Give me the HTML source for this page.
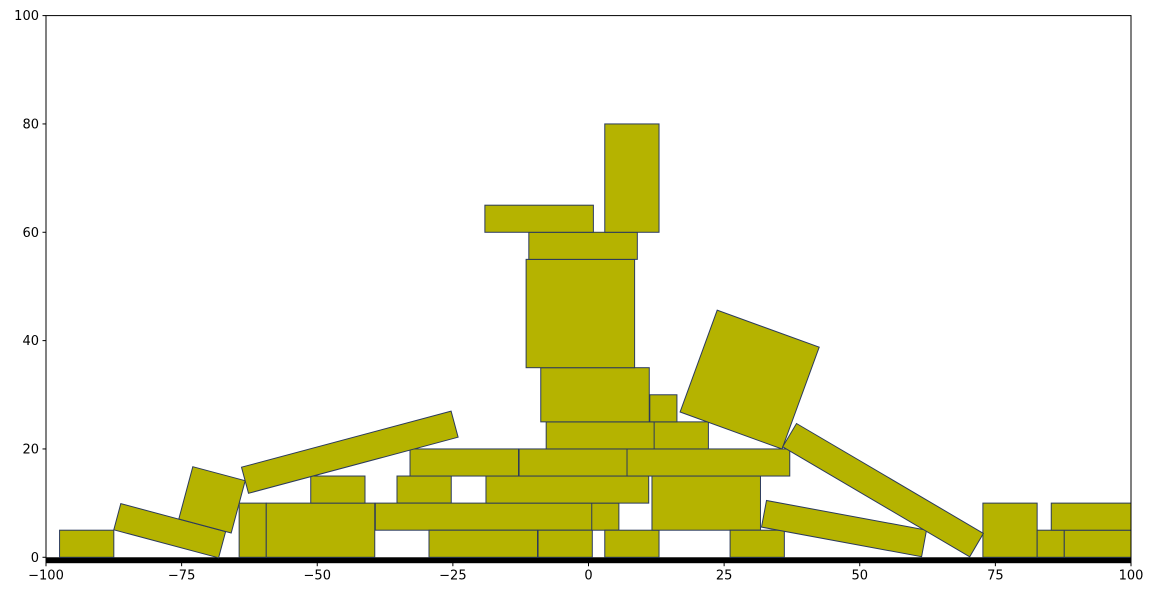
<!DOCTYPE html>
<html><head><meta charset="utf-8"><style>
body{margin:0;background:#fff;}
svg{display:block;font-family:"DejaVu Sans","Liberation Sans",sans-serif;}
</style></head><body>
<svg id="chart" width="1154" height="597"></svg>
<script>
// axis-aligned boxes: x0, y0, width, height
const boxX = [-97.5,-64.4,-59.4,-51.2,-35.3,-39.3,-29.4,-9.3,0.6,3.0,-18.9,11.7,26.1,-32.9,-12.8,7.1,-7.8,12.1,-8.8,11.3,-11.5,-11.0,-19.1,3.0,72.7,82.7,87.7,85.3];
const boxY = [0,0,0,10,10,5,0,0,5,0,10,5,0,15,15,15,20,20,25,25,35,55,60,60,0,0,0,5];
const boxW = [10,5,20,10,10,40,20,10,5,10,30,20,10,20,20,30,20,10,20,5,20,20,20,10,10,5,20,20];
const boxH = [5,10,10,5,5,5,5,5,5,5,5,10,5,5,5,5,5,5,10,5,20,5,5,20,10,5,5,5];
// rotated boxes: center x, center y, width, height, angle (deg)
const rotCX = [-77.2,-69.4,-44.0,29.7,47.1,54.3];
const rotCY = [4.9,10.6,19.4,32.8,5.3,12.4];
const rotW = [20,10,40,20,30,40];
const rotH = [5,10,5,20,5,5];
const rotA = [-15,-15,15,-20,-10.5,-30.5];
const xTicks = [-100,-75,-50,-25,0,25,50,75,100];
const yTicks = [0,20,40,60,80,100];

const L=46,R=1131,T=15.6,B=562.7;
const xMin=-100,xMax=100,yMin=-1,yMax=100;
const sx=v=>L+(v-xMin)/(xMax-xMin)*(R-L);
const sy=v=>B-(v-yMin)/(yMax-yMin)*(B-T);
const NS="http://www.w3.org/2000/svg";
const svg=document.getElementById('chart');
function mk(tag,attrs,parent){const e=document.createElementNS(NS,tag);for(const k in attrs)e.setAttribute(k,attrs[k]);(parent||svg).appendChild(e);return e;}

const defs=mk('defs',{});
const cp=mk('clipPath',{id:'clip'},defs);
mk('rect',{x:L,y:T,width:R-L,height:B-T},cp);
const g=mk('g',{'clip-path':'url(#clip)'});



const fill='#b5b300',stroke='#2b3a5c';
const ground=mk('rect',{x:L,y:sy(0),width:R-L,height:sy(-1)-sy(0),fill:'#000'},g);



for(let i=0;i<boxX.length;i++){
  const r=mk('rect',{x:sx(boxX[i]),y:sy(boxY[i]+boxH[i]),width:sx(boxX[i]+boxW[i])-sx(boxX[i]),height:sy(boxY[i])-sy(boxY[i]+boxH[i]),fill:fill,stroke:stroke,'stroke-width':1},g);
  
  
}
for(let i=0;i<rotCX.length;i++){
  const a=rotA[i]*Math.PI/180,c=Math.cos(a),s=Math.sin(a);
  const pts=[[-1,-1],[1,-1],[1,1],[-1,1]].map(([u,v])=>{
    const dx=u*rotW[i]/2,dy=v*rotH[i]/2;
    const x=rotCX[i]+dx*c-dy*s,y=rotCY[i]+dx*s+dy*c;
    return sx(x).toFixed(1)+','+sy(y).toFixed(1);
  }).join(' ');
  const p=mk('polygon',{points:pts,fill:fill,stroke:stroke,'stroke-width':1},g);
  
  
}
const frame=mk('rect',{x:L,y:T,width:R-L,height:B-T,fill:'none',stroke:'#000','stroke-width':1});



xTicks.forEach(v=>{
  const x=sx(v);
  const t=mk('line',{x1:x,x2:x,y1:B,y2:B+3.5,stroke:'#000'});
  
  
  const lb=mk('text',{x:x,y:B+17,'text-anchor':'middle','font-size':13,fill:'#000'});
  lb.textContent=v<0?'\u2212'+(-v):String(v);
  
  
});
yTicks.forEach(v=>{
  const y=sy(v);
  const t=mk('line',{x1:L-3.5,x2:L,y1:y,y2:y,stroke:'#000'});
  
  
  const lb=mk('text',{x:L-7,y:y+4.5,'text-anchor':'end','font-size':13,fill:'#000'});
  lb.textContent=String(v);
  
  
});
</script>
</body></html>
